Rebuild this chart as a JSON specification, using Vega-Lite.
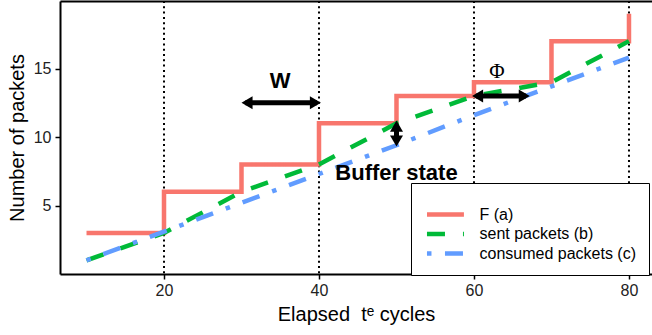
{
  "$schema": "https://vega.github.io/schema/vega-lite/v6.json",
  "width": 592,
  "height": 273,
  "autosize": {"type": "none"},
  "padding": {"left": 60, "top": 1, "right": 0, "bottom": 61},
  "background": "white",
  "config": {
    "view": {"stroke": null},
    "font": "Liberation Sans",
    "axis": {
      "domainColor": "black", "domainWidth": 2,
      "tickColor": "black", "tickWidth": 1.5, "tickSize": 5,
      "labelFontSize": 16, "labelColor": "#222222", "labelFont": "Liberation Sans",
      "titleFont": "Liberation Sans", "titleFontSize": 20, "titleFontWeight": "normal", "titleColor": "black",
      "grid": false
    },
    "legend": {
      "orient": "none", "legendX": 351, "legendY": 182,
      "titleFontSize": 8, "titlePadding": 2, "padding": 12,
      "fillColor": "white", "strokeColor": "black", "strokeWidth": 1,
      "labelFontSize": 16, "labelFont": "Liberation Sans", "labelColor": "black", "labelLimit": 500,
      "symbolType": "M-0.79,0L4.49,0", "symbolSize": 196, "symbolStrokeWidth": 4.5,
      "labelOffset": 37.5, "rowPadding": 0.5,
      "labelExpr": "datum.label + '            '"
    }
  },
  "datasets": {
    "steps": [
      {"series": "F (a)", "t": 10, "n": 3},
      {"series": "F (a)", "t": 20, "n": 6},
      {"series": "F (a)", "t": 30, "n": 8},
      {"series": "F (a)", "t": 40, "n": 11},
      {"series": "F (a)", "t": 50, "n": 13},
      {"series": "F (a)", "t": 60, "n": 14},
      {"series": "F (a)", "t": 70, "n": 17},
      {"series": "F (a)", "t": 80, "n": 19}
    ],
    "lines": [
      {"series": "sent packets (b)", "t": 10, "n": 1},
      {"series": "sent packets (b)", "t": 20, "n": 3},
      {"series": "sent packets (b)", "t": 30, "n": 6},
      {"series": "sent packets (b)", "t": 40, "n": 8},
      {"series": "sent packets (b)", "t": 50, "n": 11},
      {"series": "sent packets (b)", "t": 60, "n": 13},
      {"series": "sent packets (b)", "t": 70, "n": 14},
      {"series": "sent packets (b)", "t": 80, "n": 17},
      {"series": "consumed packets (c)", "t": 10, "n": 1},
      {"series": "consumed packets (c)", "t": 20, "n": 3.1},
      {"series": "consumed packets (c)", "t": 30, "n": 5.2},
      {"series": "consumed packets (c)", "t": 40, "n": 7.3},
      {"series": "consumed packets (c)", "t": 50, "n": 9.4},
      {"series": "consumed packets (c)", "t": 60, "n": 11.6},
      {"series": "consumed packets (c)", "t": 70, "n": 13.7},
      {"series": "consumed packets (c)", "t": 80, "n": 15.8}
    ],
    "vlines": [{"t": 20}, {"t": 40}, {"t": 60}, {"t": 80}],
    "shafts": [
      {"x": 30.5, "x2": 39.75, "y": 12.5, "y2": 12.5},
      {"x": 50, "x2": 50, "y": 10.85, "y2": 9.65},
      {"x": 60.25, "x2": 66.7, "y": 13, "y2": 13}
    ],
    "heads": [
      {"x": 30.0, "y": 12.5, "dir": "left"},
      {"x": 40.25, "y": 12.5, "dir": "right"},
      {"x": 50, "y": 11.2, "dir": "up"},
      {"x": 50, "y": 9.3, "dir": "down"},
      {"x": 59.75, "y": 13, "dir": "left"},
      {"x": 67.2, "y": 13, "dir": "right"}
    ],
    "boldlabels": [
      {"x": 35, "y": 14.1, "label": "W"},
      {"x": 50, "y": 7.4, "label": "Buffer state"}
    ],
    "seriflabels": [
      {"x": 62.97, "y": 14.75, "label": "Φ"}
    ]
  },
  "resolve": {"axis": {"x": "independent"}},
  "layer": [
    {
      "data": {"name": "vlines"},
      "mark": {"type": "rule", "color": "black", "strokeWidth": 2, "strokeDash": [2, 3.3]},
      "encoding": {
        "x": {"field": "t", "type": "quantitative", "scale": {"domain": [6.58, 82.97], "nice": false, "zero": false},
              "axis": {"orient": "bottom", "values": [20, 40, 60, 80], "labelPadding": 3, "titlePadding": 6, "title": "Elapsed\u00a0 t\u1d49 cycles"}}
      }
    },
    {
      "data": {"name": "steps"},
      "mark": {"type": "line", "interpolate": "step-after", "strokeWidth": 4.5},
      "encoding": {
        "x": {"field": "t", "type": "quantitative", "scale": {"domain": [6.58, 82.97], "nice": false, "zero": false},
              "axis": {"orient": "top", "labels": false, "ticks": false, "title": null, "domain": true}},
        "y": {"field": "n", "type": "quantitative", "scale": {"domain": [0, 19.93], "nice": false, "zero": false},
              "axis": {"values": [5, 10, 15], "labelPadding": 4, "titlePadding": 6, "title": "Number of packets"}},
        "color": {"field": "series", "type": "nominal", "title": " ",
                  "scale": {"domain": ["F (a)", "sent packets (b)", "consumed packets (c)"], "range": ["#F8766D", "#00BA38", "#619CFF"]}},
        "strokeDash": {"field": "series", "type": "nominal", "title": " ",
                  "scale": {"domain": ["F (a)", "sent packets (b)", "consumed packets (c)"], "range": [[1, 0], [18, 18], [4.5, 13.5, 18, 13.5]]}}
      }
    },
    {
      "data": {"name": "lines"},
      "mark": {"type": "line", "strokeWidth": 4.5},
      "encoding": {
        "x": {"field": "t", "type": "quantitative", "scale": {"domain": [6.58, 82.97], "nice": false, "zero": false}, "axis": null},
        "y": {"field": "n", "type": "quantitative", "scale": {"domain": [0, 19.93], "nice": false, "zero": false},
              "axis": {"values": [5, 10, 15], "labelPadding": 4, "titlePadding": 6, "title": "Number of packets"}},
        "color": {"field": "series", "type": "nominal", "title": " ",
                  "scale": {"domain": ["F (a)", "sent packets (b)", "consumed packets (c)"], "range": ["#F8766D", "#00BA38", "#619CFF"]}},
        "strokeDash": {"field": "series", "type": "nominal", "title": " ",
                  "scale": {"domain": ["F (a)", "sent packets (b)", "consumed packets (c)"], "range": [[1, 0], [18, 18], [4.5, 13.5, 18, 13.5]]}}
      }
    },
    {
      "data": {"name": "shafts"},
      "mark": {"type": "rule", "color": "black", "strokeWidth": 5},
      "encoding": {
        "x": {"field": "x", "type": "quantitative", "scale": {"domain": [6.58, 82.97], "nice": false, "zero": false}, "axis": null},
        "x2": {"field": "x2"},
        "y": {"field": "y", "type": "quantitative", "scale": {"domain": [0, 19.93], "nice": false, "zero": false},
              "axis": {"values": [5, 10, 15], "labelPadding": 4, "titlePadding": 6, "title": "Number of packets"}},
        "y2": {"field": "y2"}
      }
    },
    {
      "data": {"name": "heads"},
      "mark": {"type": "point", "filled": true, "color": "black", "opacity": 1, "size": 169, "strokeWidth": 0},
      "encoding": {
        "x": {"field": "x", "type": "quantitative", "scale": {"domain": [6.58, 82.97], "nice": false, "zero": false}, "axis": null},
        "y": {"field": "y", "type": "quantitative", "scale": {"domain": [0, 19.93], "nice": false, "zero": false},
              "axis": {"values": [5, 10, 15], "labelPadding": 4, "titlePadding": 6, "title": "Number of packets"}},
        "shape": {"field": "dir", "type": "nominal", "legend": null,
                  "scale": {"domain": ["left", "right", "up", "down"],
                            "range": ["M0,0L1.7,-1L1.7,1Z", "M0,0L-1.7,-1L-1.7,1Z", "M0,0L-1,1.7L1,1.7Z", "M0,0L-1,-1.7L1,-1.7Z"]}}
      }
    },
    {
      "data": {"name": "boldlabels"},
      "mark": {"type": "text", "font": "Liberation Sans", "fontWeight": "bold", "fontSize": 22, "color": "black", "align": "center", "baseline": "middle"},
      "encoding": {
        "x": {"field": "x", "type": "quantitative", "scale": {"domain": [6.58, 82.97], "nice": false, "zero": false}, "axis": null},
        "y": {"field": "y", "type": "quantitative", "scale": {"domain": [0, 19.93], "nice": false, "zero": false},
              "axis": {"values": [5, 10, 15], "labelPadding": 4, "titlePadding": 6, "title": "Number of packets"}},
        "text": {"field": "label"}
      }
    },
    {
      "data": {"name": "seriflabels"},
      "mark": {"type": "text", "font": "Liberation Serif", "fontSize": 21, "color": "black", "align": "center", "baseline": "middle"},
      "encoding": {
        "x": {"field": "x", "type": "quantitative", "scale": {"domain": [6.58, 82.97], "nice": false, "zero": false}, "axis": null},
        "y": {"field": "y", "type": "quantitative", "scale": {"domain": [0, 19.93], "nice": false, "zero": false},
              "axis": {"values": [5, 10, 15], "labelPadding": 4, "titlePadding": 6, "title": "Number of packets"}},
        "text": {"field": "label"}
      }
    }
  ]
}
